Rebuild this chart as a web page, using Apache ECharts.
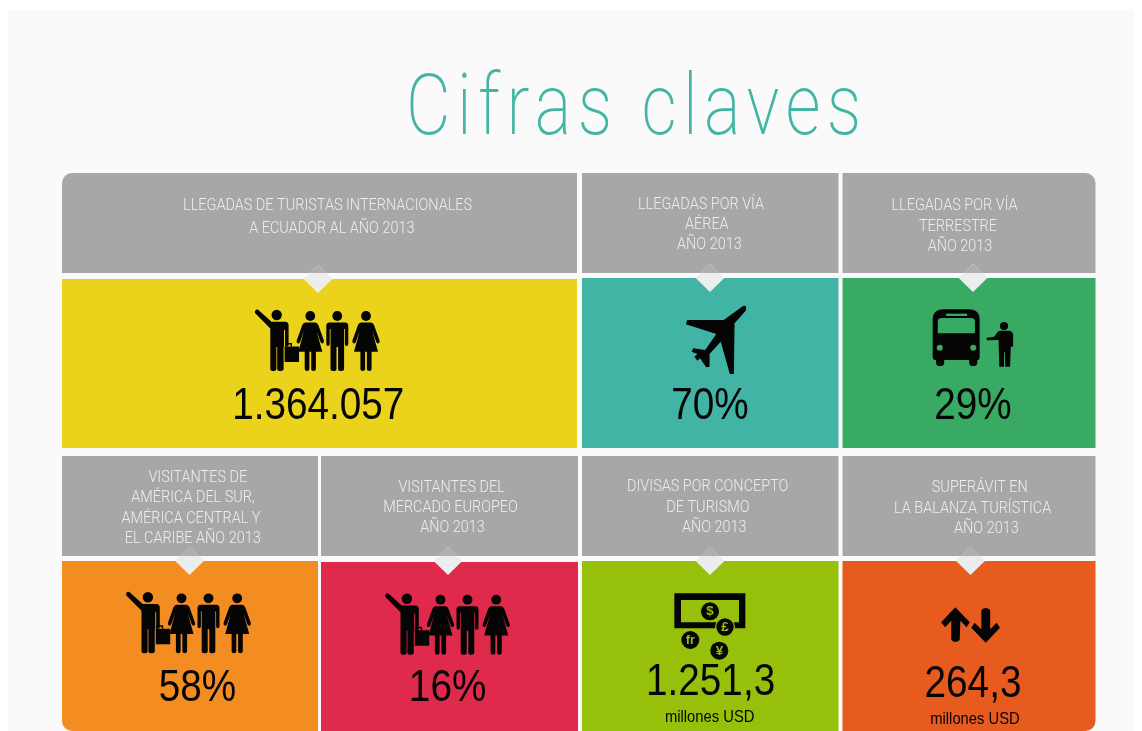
<!DOCTYPE html>
<html><head><meta charset="utf-8">
<style>html,body{margin:0;padding:0;background:#fff}#c{width:1142px;height:731px}</style>
<script src="https://cdn.jsdelivr.net/npm/echarts@6/dist/echarts.min.js"></script>
</head><body><div id="c"></div>
<script>
const titleText = 'Cifras claves';
const headers = [
  ['LLEGADAS DE TURISTAS INTERNACIONALES','A ECUADOR AL AÑO 2013'],
  ['LLEGADAS POR VÍA','AÉREA','AÑO 2013'],
  ['LLEGADAS POR VÍA','TERRESTRE','AÑO 2013'],
  ['VISITANTES DE','AMÉRICA DEL SUR,','AMÉRICA CENTRAL Y','EL CARIBE AÑO 2013'],
  ['VISITANTES DEL','MERCADO EUROPEO','AÑO 2013'],
  ['DIVISAS POR CONCEPTO','DE TURISMO','AÑO 2013'],
  ['SUPERÁVIT EN','LA BALANZA TURÍSTICA','AÑO 2013']
];
const values = ['1.364.057','70%','29%','58%','16%','1.251,3','264,3'];
const units = ['','','','','','millones USD','millones USD'];
const icons = ['people','plane','bus','people','people','money','arrows'];
const fills = ['#EAD31A','#42B4A5','#38AA64','#F38D22','#E02A4B','#97C00A','#E85B1F'];

// Layout of the tiles, in page pixels
const tileX = [[62,577],[582,838.5],[842.5,1095.5],[62,318],[321,578],[582,838.5],[842.5,1095.5]];
const headY = [[173,273],[173,273],[173,273],[456,556],[456,556],[456,556],[456,556]];
const fillY = [[279,448],[278,448],[278,448],[561,731],[562,731],[561,731],[561,731]];
const corners = [[[10,0,0,0],0],[0,0],[[0,10,0,0],0],[0,[0,0,0,10]],[0,0],[0,0],[0,[0,0,10,0]]];
const diamondX = [318,710,973,189.5,448,710,970.5];
const diamondY = [279,278,278,561,561,561,561];
const lineX = [[327.6,331.8],[701,706.8,709.4],[954.5,958,960],[197.8,193,191,192.7],[451.6,450.5,452.5],[707.7,707.9,714.3],[979.8,972.6,986.4]];
const lineY = [[205.5,228.5],[204.5,224.5,244.5],[206,226.5,246.5],[478,498,518.5,538.5],[487.5,507.5,527.5],[487,507.5,527.5],[488,508.5,528.5]];
const valueX = [318.3,710,973,197.4,447.6,710.6,973];
const valueY = [407,406.5,406.5,689,689,683,684.5];
const unitX = [0,0,0,0,0,709.7,975];
const unitY = [0,0,0,0,0,717.5,719];
const iconOrigin = [[250,300],[575,170],[575,170],[121.2,582.3],[380.2,583.7],[660,585],[575,450]];

const ink = '#050505', BODY = 'Roboto', HELV = '"Liberation Sans"';
const p = (d, fill) => ({type:'path', shape:{pathData:d}, style:{fill: fill||ink}});
const c = (x,y,r,fill,stroke) => ({type:'circle', shape:{cx:x,cy:y,r}, style:{fill:fill||ink, stroke:stroke||null, lineWidth:stroke?4:0}});
const woman = cx => ({type:'group', x:cx, children:[
  c(0,16,4.9),
  p('M-5 22.5 L5 22.5 Q7 22.5 8 25 L13.6 40.5 Q14 43 12.3 43.4 Q10.8 43.6 10.2 42 L6.3 31 L12 51.7 L5.6 51.7 L5.6 69 Q5.6 71 3.2 71 Q0.9 71 0.9 69 L0.9 51.7 L-0.9 51.7 L-0.9 69 Q-0.9 71 -3.2 71 Q-5.6 71 -5.6 69 L-5.6 51.7 L-12 51.7 L-6.3 31 L-10.2 42 Q-10.8 43.6 -12.3 43.4 Q-14 43 -13.6 40.5 L-8 25 Q-7 22.5 -5 22.5 Z')
]});
const man = cx => ({type:'group', x:cx, children:[
  c(0,16,4.9),
  p('M-8 22.5 L8 22.5 Q11 22.5 11 26 L11 44 Q11 46 9.2 46 Q7.6 46 7.6 44 L7.6 29 L6.8 29 L6.8 69 Q6.8 71 4.3 71 L2.7 71 Q0.8 71 0.8 69 L0.8 47 L-0.8 47 L-0.8 69 Q-0.8 71 -2.7 71 L-4.3 71 Q-6.8 71 -6.8 69 L-6.8 29 L-7.6 29 L-7.6 44 Q-7.6 46 -9.2 46 Q-11 46 -11 44 L-11 26 Q-11 22.5 -8 22.5 Z')
]});
const glyph = (t,x,y,bg,size) => ({type:'text', x, y, style:{text:t, fill:bg, font:'bold '+size+'px "Liberation Sans"', align:'center', verticalAlign:'middle'}});
const iconBuilders = {
  people: bg => ({children:[
    c(26.7,15,5.2),
    p('M5 13 Q4.5 10.5 6 9.8 Q7.5 9 9 10.5 L21.5 21.7 L35 21.7 Q38.6 21.7 38.6 25.5 L38.6 45 Q38.6 46.5 36.8 46.5 Q35 46.5 35 45 L35 30 L34 30 L34 46 L33.6 46 L33.6 69 Q33.6 71 31 71 L29.2 71 Q27.2 71 27.2 69 L27.2 47 L26.4 47 L26.4 69 Q26.4 71 24 71 L22.5 71 Q20.3 71 20.3 69 L20.3 28.5 Z'),
    p('M33 46.5 L49 46.5 L49 62 L33 62 Z'),
    p('M33.6 47 L34.6 47 L34.6 62 L33.6 62 Z', bg),
    p('M35 43 L42 43 L42 46.5 L40.5 46.5 L40.5 44.5 L36.5 44.5 L36.5 46.5 L35 46.5 Z'),
    woman(60.3), man(87.3), woman(116)
  ]}),
  plane: () => ({scaleX:1/2.958, scaleY:1/3, children:[
    p('M497 408 Q510 403 505 422 L472 460 L470 612 L458 612 L431 515 L398 552 L398 590 L388 592 L370 565 L362 572 L353 560 L362 552 L345 545 L350 535 L385 540 L418 492 L328 463 L332 450 L440 450 Z')
  ]}),
  bus: bg => ({scaleX:1/2.958, scaleY:1/3, children:[
    p('M1090 418 L1165 418 Q1197 418 1197 450 L1197 560 Q1197 570 1190 570 L1190 578 Q1190 588 1178 588 Q1166 588 1166 578 L1166 570 L1092 570 L1092 578 Q1092 588 1080 588 Q1068 588 1068 578 L1068 570 Q1058 570 1058 560 L1058 450 Q1058 418 1090 418 Z'),
    p('M1098 431 L1160 431 L1160 438 L1098 438 Z', bg),
    p('M1085 444 L1172 444 Q1183 444 1183 455 L1183 490 L1073 490 L1073 455 Q1073 444 1085 444 Z', bg),
    c(1079,533,9,bg), c(1178,533,9,bg),
    c(1269,468,12),
    p('M1218 503 L1240 500 L1250 486 Q1254 482 1260 482 L1284 482 Q1296 484 1296 495 L1296 530 L1289 530 L1287 590 L1273 590 L1271 545 L1269 545 L1269 590 L1255 590 L1253 510 L1218 511 Z')
  ]}),
  money: bg => ({scaleX:1/3, scaleY:1/3, children:[
    p('M43 25 L256 25 L256 130 L43 130 Z'),
    p('M63 45 L237 45 L237 112 L63 112 Z', bg),
    c(150,79,27), glyph('$',150,80,bg,40),
    c(195,126,28,ink,bg), glyph('£',195,127,bg,40),
    c(91,165,27), glyph('fr',91,166,bg,38),
    c(178,197,27), glyph('¥',178,198,bg,40)
  ]}),
  arrows: () => ({scaleX:1/2.958, scaleY:1/3, children:[
    p('M1125 472 L1168 517 L1158 532 L1140 512 L1138 570 Q1125 582 1113 570 L1113 512 L1095 532 L1083 517 Z'),
    p('M1215 578 L1172 533 L1182 518 L1202 538 L1202 480 Q1215 468 1228 480 L1228 538 L1247 518 L1257 533 Z')
  ]})
};

const rectEl = (api, x0, y0, x1, y1, r, fill) => {
  const a = api.coord([x0,y0]), b = api.coord([x1,y1]);
  return {type:'rect', shape:{x:a[0], y:a[1], width:b[0]-a[0], height:b[1]-a[1], r}, style:{fill}};
};

function renderTile(params, api) {
  const i = api.value(0), ch = [];
  const [x0,x1] = tileX[i], [hy0,hy1] = headY[i], [fy0,fy1] = fillY[i];
  ch.push(rectEl(api,x0,hy0,x1,hy1,corners[i][0],'#A7A7A7'));
  ch.push(rectEl(api,x0,fy0,x1,fy1,corners[i][1],fills[i]));
  // diamond pointer
  const d = api.coord([diamondX[i], diamondY[i]]), hw = 14.4, h = 14;
  ch.push({type:'polygon', shape:{points:[[d[0],d[1]-h],[d[0]+hw,d[1]],[d[0],d[1]+h],[d[0]-hw,d[1]]]}, style:{fill:'#ECEDED'}});
  const edge = api.coord([0,hy1])[1], k = (edge-(d[1]-h));
  if (k > 0) ch.push({type:'polygon', shape:{points:[[d[0],d[1]-h],[d[0]+k*hw/h,edge],[d[0]-k*hw/h,edge]]}, style:{fill:'#AEAEAE'}});
  // header lines
  headers[i].forEach((t,j) => {
    const q = api.coord([lineX[i][j], lineY[i][j]]);
    ch.push({type:'text', x:q[0], y:q[1], scaleX:0.85, style:{text:t, fill:'#EDEDED', font:'300 17px '+BODY, align:'center', verticalAlign:'middle'}});
  });
  // icon
  const o = api.coord(iconOrigin[i]);
  const ic = iconBuilders[icons[i]](fills[i]);
  ch.push(Object.assign({type:'group', x:o[0], y:o[1]}, ic));
  // value
  const v = api.coord([valueX[i], valueY[i]]);
  ch.push({type:'text', x:v[0], y:v[1], scaleX:0.86, style:{text:values[i], fill:ink, font:'45px '+HELV, align:'center', verticalAlign:'middle'}});
  if (units[i]) {
    const u = api.coord([unitX[i], unitY[i]]);
    ch.push({type:'text', x:u[0], y:u[1], scaleX:0.87, style:{text:units[i], fill:ink, font:'17px '+HELV, align:'center', verticalAlign:'middle'}});
  }
  return {type:'group', children:ch};
}

// The title is tracked out; zrender has no letter-spacing option, so it is applied on the canvas context.
const nativeFill = CanvasRenderingContext2D.prototype.fillText;
CanvasRenderingContext2D.prototype.fillText = function (t) {
  this.letterSpacing = t === titleText ? '8px' : '0px';
  return nativeFill.apply(this, arguments);
};

const chart = echarts.init(document.getElementById('c'), null, {renderer:'canvas'});
chart.setOption({
  animation:false,
  backgroundColor:'#fff',
  graphic:[
    {type:'rect', z:-10, silent:true, shape:{x:8,y:10,width:1126,height:721}, style:{fill:'#FAFAFA'}},
    {type:'text', z:5, silent:true, x:406, y:112, scaleX:0.8, style:{text:titleText, fill:'#42B5A5', font:'200 86px '+BODY, align:'left', verticalAlign:'middle'}}
  ],
  grid:{left:0,right:0,top:0,bottom:0},
  tooltip:{show:false},
  xAxis:{type:'value', min:0, max:1142, show:false},
  yAxis:{type:'value', min:0, max:731, inverse:true, show:false},
  series:[{type:'custom', silent:true, coordinateSystem:'cartesian2d', renderItem:renderTile,
    encode:{x:0,y:0}, data:headers.map((_,i)=>[i])}]
});
</script></body></html>
